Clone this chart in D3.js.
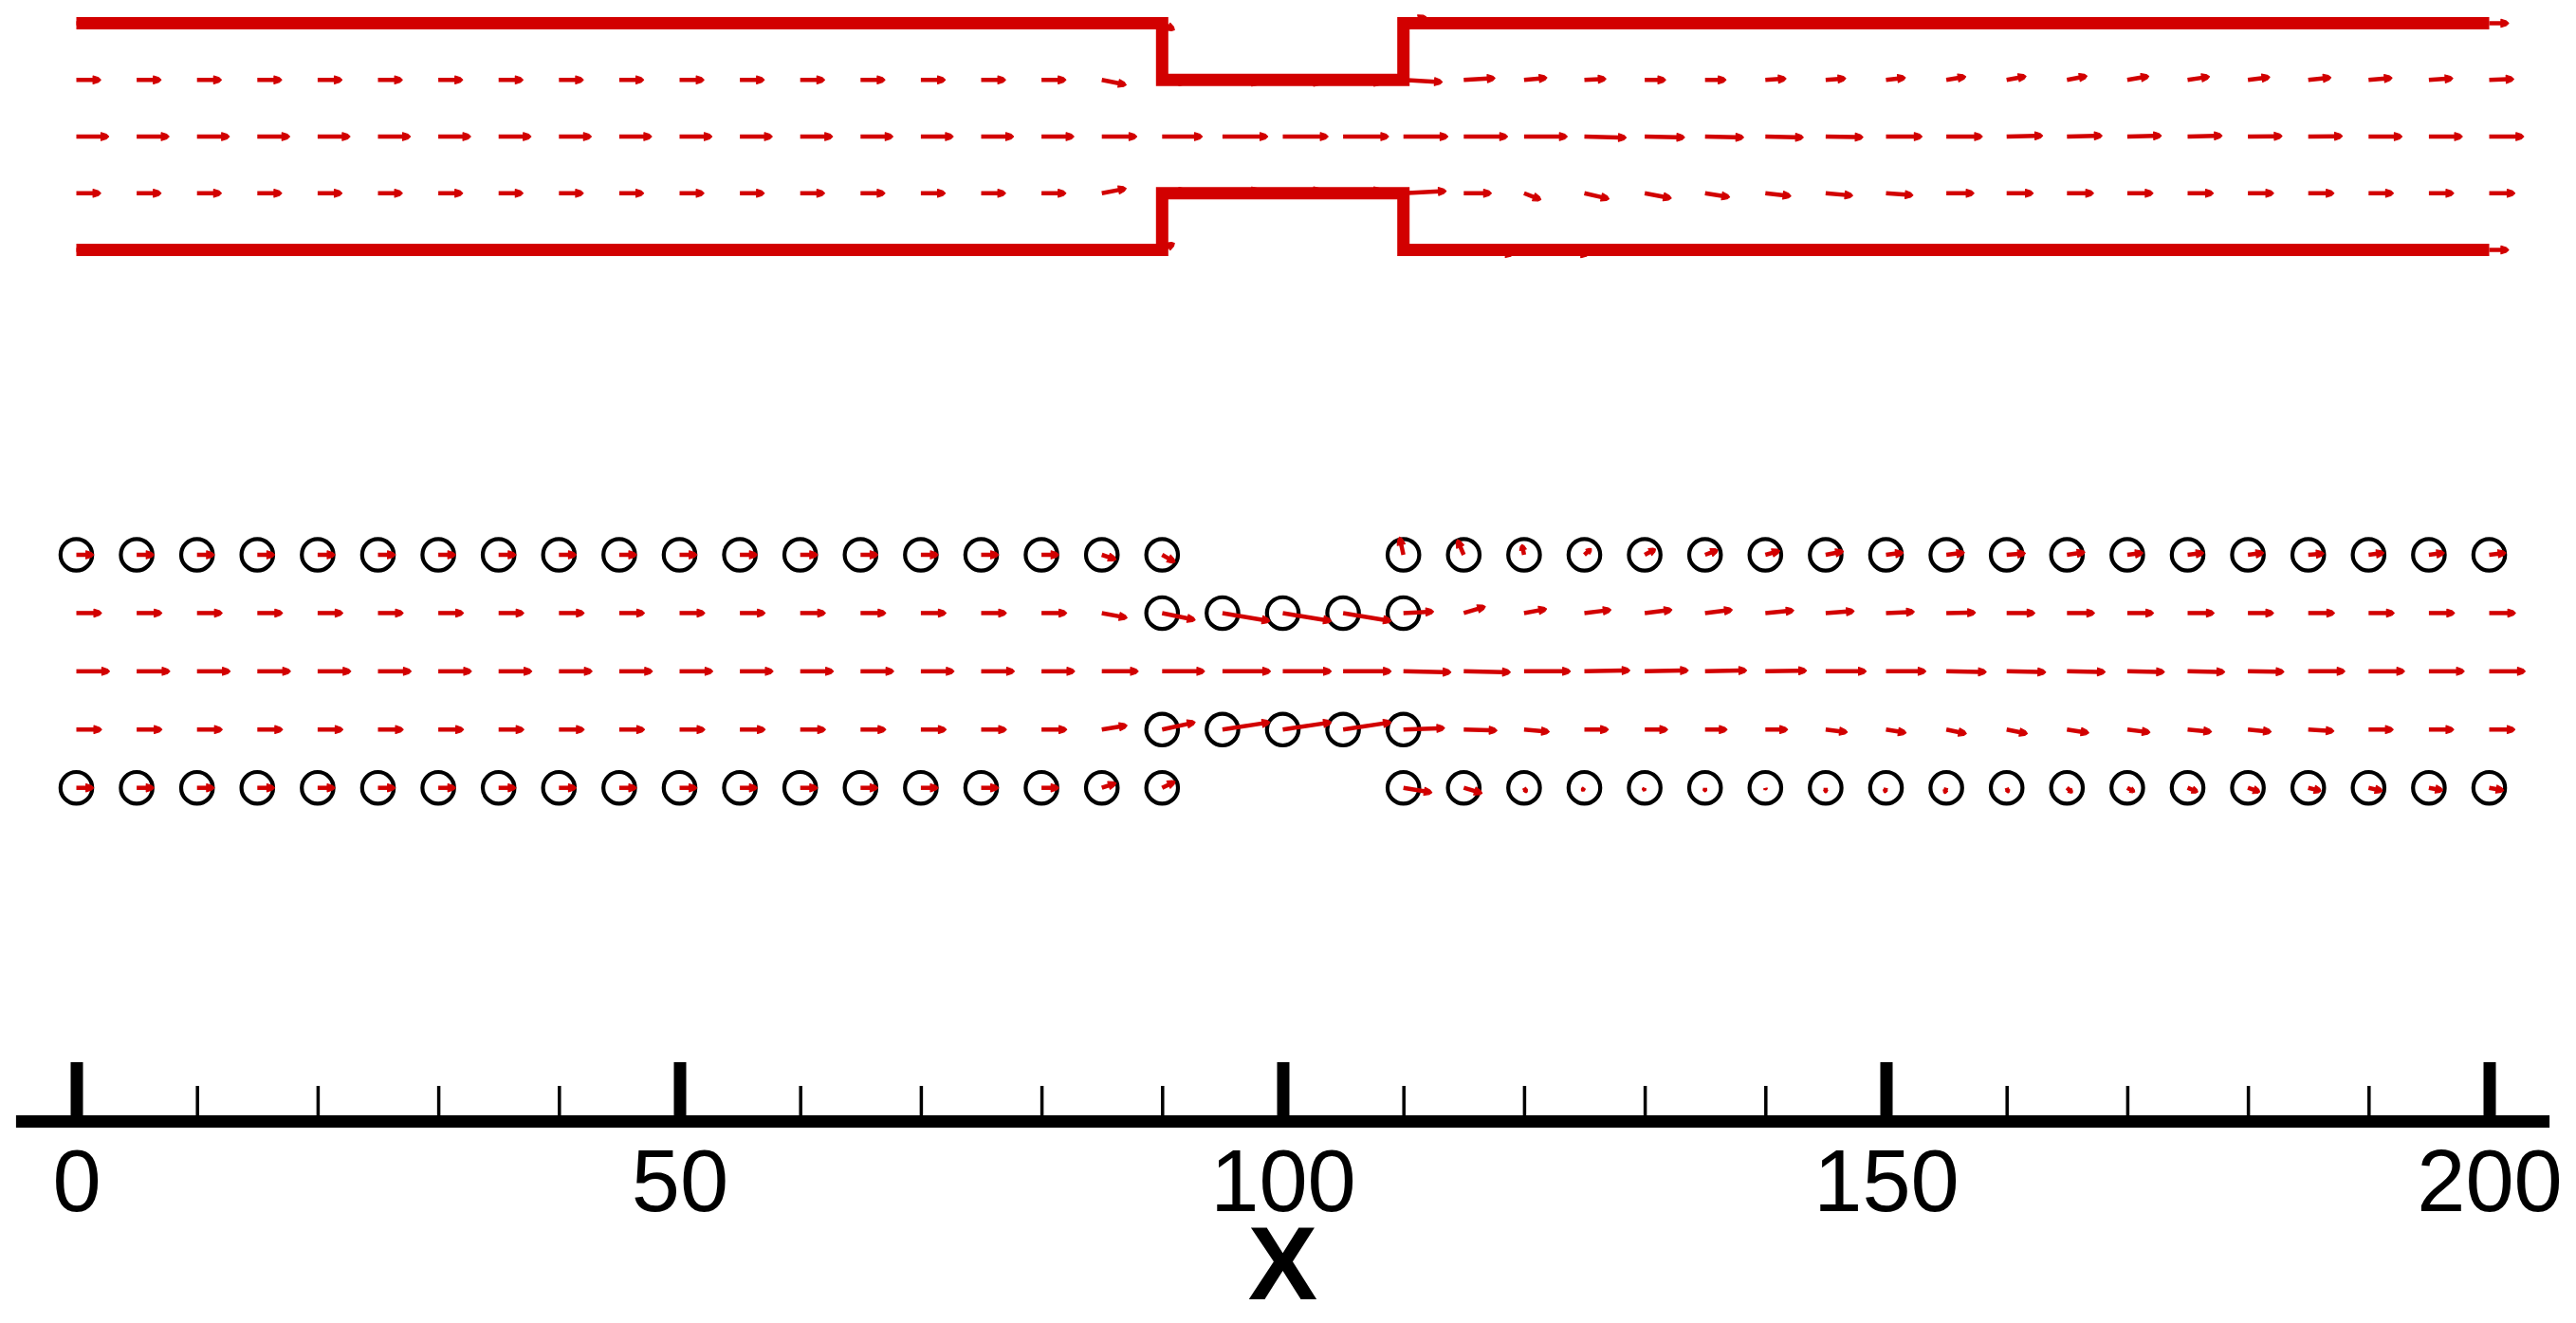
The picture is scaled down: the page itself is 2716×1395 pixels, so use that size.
<!DOCTYPE html>
<html>
<head>
<meta charset="utf-8">
<script src="https://cdn.jsdelivr.net/npm/d3@7/dist/d3.min.js"></script>
<style>
  html, body { margin: 0; padding: 0; background: #fff; }
  svg { display: block; }
</style>
</head>
<body>
<script>
// grid nodes along the channel, every 5 units
const xNodes = [0,5,10,15,20,25,30,35,40,45,50,55,60,65,70,75,80,85,90,95,100,
                105,110,115,120,125,130,135,140,145,150,155,160,165,170,175,180,185,190,195,200];
const yLevels = [2, 1, 0, -1, -2];

// axis ticks
const majorTicks = [0, 50, 100, 150, 200];
const minorTicks = [10,20,30,40,60,70,80,90,110,120,130,140,160,170,180,190];
const axisExtent = [-5, 205];

// channel walls (top panel)
const wallUpper = [[0,2],[90,2],[90,1],[110,1],[110,2],[200,2]];
const wallLower = [[0,-2],[90,-2],[90,-1],[110,-1],[110,-2],[200,-2]];

// wall nodes marked with circles (bottom panel)
const throatNodes = [90, 95, 100, 105, 110];

// ---- top panel velocity (u, v) per row, x = 0..200 ----
const topRowP2 = [
  [0.9,0],[0.9,0],[0.9,0],[0.9,0],[0.9,0],[0.9,0],[0.9,0],[0.9,0],[0.9,0],[0.9,0],
  [0.9,0],[0.9,0],[0.9,0],[0.9,0],[0.9,0],[0.9,0],[0.9,0],
  [0.9,0],[0.57,-0.31],null,null,null,[1.05,0.3],
  [0.9,0],[0.9,0],[0.9,0],[0.9,0],[0.9,0],[0.9,0],[0.9,0],[0.9,0],[0.9,0],
  [0.9,0],[0.9,0],[0.9,0],[0.9,0],[0.9,0],[0.9,0],[0.9,0],[0.9,0],[0.9,0]
];
const topRowP1 = [
  [1.13,0],[1.13,0],[1.13,0],[1.13,0],[1.13,0],[1.13,0],[1.13,0],[1.13,0],[1.13,0],[1.13,0],
  [1.13,0],[1.13,0],[1.13,0],[1.13,0],[1.13,0],[1.13,0],[1.13,0],
  [1.13,-0.23],[1.15,-0.12],[1.73,-0.13],[1.8,-0.13],[1.8,-0.13],[1.8,-0.1],
  [1.45,0.08],[1.06,0.1],[1.0,0.05],[0.97,0],[0.97,0],[0.96,0.06],[0.93,0.07],[0.9,0.1],[0.9,0.15],
  [0.9,0.17],[0.93,0.18],[1.0,0.17],[1.01,0.15],[1.01,0.13],[1.05,0.11],[1.09,0.09],[1.11,0.07],[1.14,0.04]
];
const topRow0 = [
  [1.5,0],[1.5,0],[1.5,0],[1.5,0],[1.5,0],[1.5,0],[1.5,0],[1.5,0],[1.5,0],[1.5,0],
  [1.5,0],[1.5,0],[1.5,0],[1.5,0],[1.5,0],[1.5,0],[1.5,0],
  [1.62,0],[1.86,0],[2.1,0],[2.1,0],[2.11,0],[2.06,0],
  [2.03,0],[2.0,0],[1.94,-0.05],[1.85,-0.04],[1.79,-0.04],[1.76,-0.04],[1.73,-0.03],[1.67,0],[1.67,0],
  [1.67,0.04],[1.63,0.04],[1.58,0.04],[1.6,0.04],[1.58,0.02],[1.58,0.02],[1.55,0],[1.55,0],[1.6,0]
];
const topRowM1 = [
  [1.13,0],[1.13,0],[1.13,0],[1.13,0],[1.13,0],[1.13,0],[1.13,0],[1.13,0],[1.13,0],[1.13,0],
  [1.13,0],[1.13,0],[1.13,0],[1.13,0],[1.13,0],[1.13,0],[1.13,0],
  [1.13,0.22],[1.15,0.12],[1.73,0.13],[1.8,0.13],[1.8,0.13],[1.98,0.1],
  [1.28,0],[0.78,-0.3],[1.14,-0.26],[1.23,-0.23],[1.14,-0.18],[1.18,-0.13],[1.25,-0.11],[1.25,-0.09],[1.28,0],
  [1.23,0],[1.23,0],[1.19,0],[1.19,0],[1.19,0],[1.19,0],[1.15,0],[1.15,0],[1.19,0]
];
const topRowM2 = [
  [0.9,0],[0.9,0],[0.9,0],[0.9,0],[0.9,0],[0.9,0],[0.9,0],[0.9,0],[0.9,0],[0.9,0],
  [0.9,0],[0.9,0],[0.9,0],[0.9,0],[0.9,0],[0.9,0],[0.9,0],
  [0.9,0],[0.57,0.31],null,null,null,[1.0,0],
  [2.3,-0.2],[3.0,-0.2],[0.9,0],[0.9,0],[0.9,0],[0.9,0],[0.9,0],[0.9,0],[0.9,0],
  [0.9,0],[0.9,0],[0.9,0],[0.9,0],[0.9,0],[0.9,0],[0.9,0],[0.9,0],[0.9,0]
];

// ---- bottom panel velocity (u, v) per row, x = 0..200 ----
const botRowP2 = [
  [0.8,0],[0.8,0],[0.8,0],[0.8,0],[0.8,0],[0.8,0],[0.8,0],[0.8,0],[0.8,0],[0.8,0],
  [0.8,0],[0.8,0],[0.8,0],[0.8,0],[0.8,0],[0.8,0],[0.8,0],
  [0.66,-0.22],[0.6,-0.34],null,null,null,[-0.18,0.82],
  [-0.3,0.7],[-0.1,0.47],[0.32,0.28],[0.5,0.26],[0.59,0.22],[0.67,0.19],[0.82,0.16],[0.8,0.1],[0.84,0.1],
  [0.87,0.07],[0.83,0.12],[0.73,0.09],[0.75,0.09],[0.73,0.09],[0.73,0.06],[0.72,0.09],[0.72,0.09],[0.77,0.09]
];
const botRowP1 = [
  [1.17,0],[1.17,0],[1.17,0],[1.17,0],[1.17,0],[1.17,0],[1.17,0],[1.17,0],[1.17,0],[1.17,0],
  [1.17,0],[1.17,0],[1.17,0],[1.17,0],[1.17,0],[1.17,0],[1.17,0],
  [1.17,-0.22],[1.53,-0.32],[2.2,-0.37],[2.25,-0.37],[2.23,-0.37],[1.4,0.07],
  [1.0,0.3],[1.04,0.19],[1.23,0.15],[1.26,0.15],[1.26,0.15],[1.32,0.12],[1.32,0.09],[1.31,0.06],[1.35,0.02],
  [1.31,0],[1.28,0],[1.22,0],[1.23,0],[1.19,0],[1.22,0],[1.19,0],[1.19,0],[1.22,0]
];
const botRow0 = [
  [1.54,0],[1.54,0],[1.54,0],[1.54,0],[1.54,0],[1.54,0],[1.54,0],[1.54,0],[1.54,0],[1.54,0],
  [1.54,0],[1.54,0],[1.54,0],[1.54,0],[1.54,0],[1.54,0],[1.54,0],
  [1.69,0],[1.97,0],[2.23,0],[2.25,0],[2.23,0],[2.2,-0.04],
  [2.16,-0.04],[2.15,0],[2.11,0.04],[2.02,0.04],[1.93,0.04],[1.91,0.03],[1.88,0],[1.85,0],[1.85,-0.03],
  [1.81,-0.04],[1.77,-0.03],[1.72,-0.03],[1.72,-0.03],[1.67,-0.02],[1.7,0],[1.67,0],[1.64,0],[1.67,0]
];
const botRowM1 = [
  [1.17,0],[1.17,0],[1.17,0],[1.17,0],[1.17,0],[1.17,0],[1.17,0],[1.17,0],[1.17,0],[1.17,0],
  [1.17,0],[1.17,0],[1.17,0],[1.17,0],[1.17,0],[1.17,0],[1.17,0],
  [1.17,0.19],[1.53,0.34],[2.2,0.34],[2.25,0.34],[2.23,0.34],[1.91,0.07],
  [1.54,-0.04],[1.17,-0.1],[1.11,0],[1.06,0],[1.02,0],[1.03,0],[1.0,-0.12],[0.93,-0.15],[0.93,-0.19],
  [0.96,-0.19],[1.01,-0.15],[1.05,-0.13],[1.11,-0.1],[1.08,-0.1],[1.19,-0.07],[1.14,0],[1.15,0],[1.19,0]
];
const botRowM2 = [
  [0.8,0],[0.8,0],[0.8,0],[0.8,0],[0.8,0],[0.8,0],[0.8,0],[0.8,0],[0.8,0],[0.8,0],
  [0.8,0],[0.8,0],[0.8,0],[0.8,0],[0.8,0],[0.8,0],[0.8,0],
  [0.66,0.22],[0.6,0.29],null,null,null,[1.32,-0.22],
  [0.85,-0.25],[0.12,-0.22],[-0.12,-0.15],[-0.06,-0.15],[0,-0.19],[0.02,-0.1],[0,-0.23],[-0.06,-0.23],[-0.08,-0.26],
  [0.09,-0.23],[0.25,-0.23],[0.34,-0.19],[0.47,-0.19],[0.55,-0.19],[0.59,-0.15],[0.64,-0.15],[0.64,-0.12],[0.67,-0.12]
];

const topRows = [topRowP2, topRowP1, topRow0, topRowM1, topRowM2];
const botRows = [botRowP2, botRowP1, botRow0, botRowM1, botRowM2];

const RED = "#d20000";
const FONT = "Arial, 'Liberation Sans', Helvetica, sans-serif";
const vecScale = 22.7; // px per unit velocity

const width = 2716, height = 1395;
const svg = d3.select("body").append("svg")
  .attr("xmlns", "http://www.w3.org/2000/svg")
  .attr("width", width)
  .attr("height", height);

const x = d3.scaleLinear().domain([0, 200]).range([80.5, 2624.5]);
const yTop = d3.scaleLinear().domain([-2, 2]).range([263.5, 24.5]);
const yBot = d3.scaleLinear().domain([-2, 2]).range([830.7, 585]);

function flatten(rows) {
  const out = [];
  rows.forEach((row, ri) => {
    row.forEach((vec, i) => {
      if (vec) out.push({ x: xNodes[i], y: yLevels[ri], u: vec[0], v: vec[1] });
    });
  });
  return out;
}

// blunt, blocky head like the plotting package draws
function headSize(len) {
  const h = Math.min(8, len * 0.5);
  return { h, w: Math.min(4.2, h * 0.5 + 0.8) };
}

function arrowPath(d, yScale) {
  const x0 = x(d.x), y0 = yScale(d.y);
  const dx = d.u * vecScale, dy = -d.v * vecScale;
  const len = Math.hypot(dx, dy);
  if (len < 0.5) return "";
  const ux = dx / len, uy = dy / len;
  const { h, w } = headSize(len);
  const bx = x0 + ux * (len - h), by = y0 + uy * (len - h);
  const mx = x0 + ux * (len - h * 0.3), my = y0 + uy * (len - h * 0.3);
  const tx = x0 + dx, ty = y0 + dy;
  const w2 = w * 0.55;
  return `M${bx + uy * w},${by - ux * w}L${mx + uy * w2},${my - ux * w2}` +
         `L${tx},${ty}L${mx - uy * w2},${my + ux * w2}L${bx - uy * w},${by + ux * w}Z`;
}

function shaftEnd(d, yScale) {
  const dx = d.u * vecScale, dy = -d.v * vecScale;
  const len = Math.hypot(dx, dy);
  const { h } = headSize(len);
  const k = len > 0 ? (len - h + 1) / len : 0;
  return [x(d.x) + dx * k, yScale(d.y) + dy * k];
}

function drawVectors(layer, data, yScale) {
  const g = layer.append("g").attr("class", "vectors");
  g.selectAll("line")
    .data(data)
    .join("line")
    .attr("x1", d => x(d.x))
    .attr("y1", d => yScale(d.y))
    .attr("x2", d => shaftEnd(d, yScale)[0])
    .attr("y2", d => shaftEnd(d, yScale)[1])
    .attr("stroke", RED)
    .attr("stroke-width", 4.5);
  g.selectAll("path")
    .data(data)
    .join("path")
    .attr("d", d => arrowPath(d, yScale))
    .attr("fill", RED)
    .attr("stroke", RED)
    .attr("stroke-width", 1.2)
    .attr("stroke-linejoin", "round");
}

// ---- top panel ----
const topPanel = svg.append("g").attr("class", "top-panel");
drawVectors(topPanel, flatten(topRows), yTop);

const wallLine = d3.line().x(d => x(d[0]));
topPanel.selectAll("path.wall")
  .data([wallUpper, wallLower])
  .join("path")
  .attr("class", "wall")
  .attr("d", d => wallLine.y(p => yTop(p[1]))(d))
  .attr("fill", "none")
  .attr("stroke", RED)
  .attr("stroke-width", 13)
  .attr("stroke-linejoin", "miter")
  .attr("stroke-linecap", "butt");

// ---- bottom panel ----
const botPanel = svg.append("g").attr("class", "bottom-panel");
const wallNodes = [];
botRowP2.forEach((v, i) => { if (v) wallNodes.push({ x: xNodes[i], y: 2 }); });
botRowM2.forEach((v, i) => { if (v) wallNodes.push({ x: xNodes[i], y: -2 }); });
throatNodes.forEach(n => { wallNodes.push({ x: n, y: 1 }); wallNodes.push({ x: n, y: -1 }); });

botPanel.append("g").attr("class", "nodes")
  .selectAll("circle")
  .data(wallNodes)
  .join("circle")
  .attr("cx", d => x(d.x))
  .attr("cy", d => yBot(d.y))
  .attr("r", 16.7)
  .attr("fill", "none")
  .attr("stroke", "#000")
  .attr("stroke-width", 4.2);

drawVectors(botPanel, flatten(botRows), yBot);

// ---- x axis ----
const axisY = 1182.5;
const axisG = svg.append("g").attr("class", "x-axis").attr("transform", `translate(0,${axisY})`);

axisG.append("line")
  .attr("x1", x(axisExtent[0])).attr("x2", x(axisExtent[1]))
  .attr("y1", 0).attr("y2", 0)
  .attr("stroke", "#000").attr("stroke-width", 13);

const minorAxis = d3.axisTop(x).tickValues(minorTicks).tickSize(37.5).tickFormat("");
const majorAxis = d3.axisTop(x).tickValues(majorTicks).tickSize(62.5).tickFormat("");
const labelAxis = d3.axisBottom(x).tickValues(majorTicks).tickSize(0).tickFormat(d3.format("d"));

axisG.append("g").call(minorAxis)
  .call(g => g.select(".domain").remove())
  .call(g => g.selectAll(".tick line").attr("stroke", "#000").attr("stroke-width", 3.5));

axisG.append("g").call(majorAxis)
  .call(g => g.select(".domain").remove())
  .call(g => g.selectAll(".tick line").attr("stroke", "#000").attr("stroke-width", 13));

axisG.append("g").call(labelAxis)
  .call(g => g.select(".domain").remove())
  .call(g => g.selectAll(".tick text")
    .attr("y", 1277 - axisY)
    .attr("dy", null)
    .attr("fill", "#000")
    .attr("font-family", FONT)
    .attr("font-size", 92));

svg.append("text")
  .attr("x", x(100))
  .attr("y", 1370)
  .attr("text-anchor", "middle")
  .attr("font-family", FONT)
  .attr("font-weight", "bold")
  .attr("font-size", 110)
  .attr("fill", "#000")
  .text("X");
</script>
</body>
</html>
